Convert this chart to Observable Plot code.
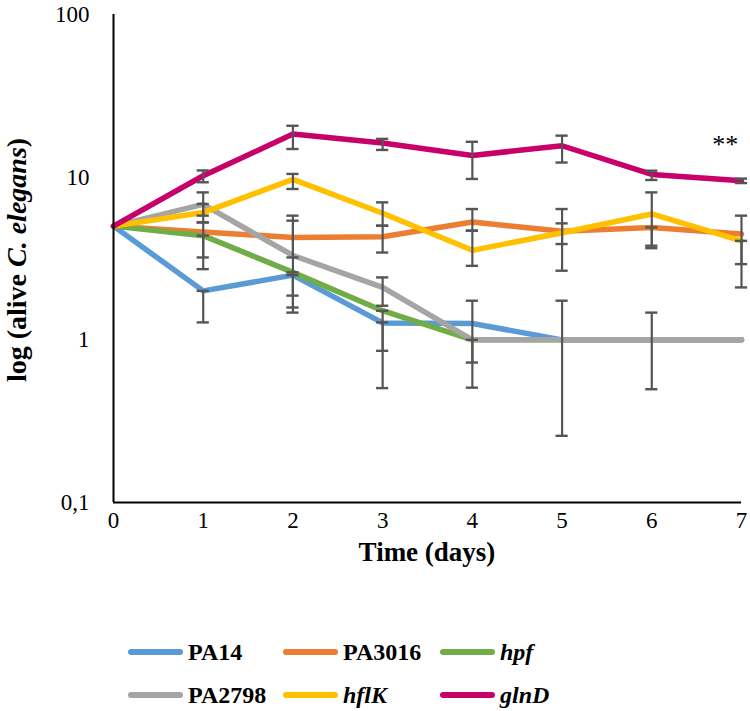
<!DOCTYPE html>
<html>
<head>
<meta charset="utf-8">
<script src="https://cdn.jsdelivr.net/npm/d3@7"></script>
<script src="https://cdn.jsdelivr.net/npm/@observablehq/plot@0.6"></script>
<style>
  body { margin: 0; background: #fff; font-family: "Liberation Serif", "Times New Roman", serif; }
  #wrap { position: relative; width: 750px; height: 711px; }
  #legend { position: absolute; left: 0; top: 0; width: 750px; height: 711px; pointer-events: none; }
  .item { position: absolute; display: flex; align-items: center; font-family: "Liberation Serif", "Times New Roman", serif; font-weight: bold; font-size: 24px; color: #000; }
  .sw { display: inline-block; width: 55px; height: 6px; border-radius: 3px; margin-right: 5px; }
  .it { font-style: italic; }
</style>
</head>
<body>
<div id="wrap"><div id="chart"></div><div id="legend"></div></div>
<script>
const days = [0, 1, 2, 3, 4, 5, 6, 7];
const seriesNames = ["PA14", "PA3016", "hpf", "PA2798", "hflK", "glnD"];
const seriesColors = ["#5B9BD5", "#ED7D31", "#70AD47", "#A5A5A5", "#FFC000", "#C8006A"];
const italicNames = ["hpf", "hflK", "glnD"];

const PA14   = [5, 2.0, 2.5, 1.27, 1.26, 1, 1, 1];
const PA3016 = [5, 4.6, 4.26, 4.3, 5.3, 4.65, 4.91, 4.47];
const hpf    = [5, 4.37, 2.6, 1.51, 1, 1, 1, 1];
const PA2798 = [5, 6.8, 3.3, 2.1, 1, 1, 1, 1];
const hflK   = [5, 6.06, 9.7, 6.0, 3.55, 4.55, 5.94, 4.06];
const glnD   = [5, 10.2, 18.4, 16.2, 13.6, 15.6, 10.4, 9.5];

// error bars: [low, high] per day, null = none
const PA14err   = [null, [1.28, 2.0], [1.87, 2.5], [0.505, 1.28], [0.725, 1.74], null, null, null];
const PA3016err = [null, [2.72, 5.27], [3.21, 5.8], [3.44, 5.03], [4.69, 6.37], [3.88, 6.37], [3.66, 4.91], [2.92, 5.8]];
const hpfErr    = [null, [3.21, 4.37], [1.47, 2.6], [0.856, 1.51], null, null, null, null];
const PA2798err = [null, [5.27, 8.06], [1.58, 5.4], [1.62, 2.42], [0.508, 1], [0.257, 1.74], [0.497, 1.47], null];
const hflKerr   = [null, [5.8, 6.84], [8.46, 10.47], [5.03, 7.0], [2.85, 4.69], [2.66, 5.2], [3.79, 8.06], [2.1, 4.06]];
const glnDerr   = [null, [9.3, 11.0], [14.9, 20.7], [14.7, 17.2], [9.75, 16.5], [12.3, 18.0], [9.61, 10.96], [9.2, 9.8]];

const yTicks = [0.1, 1, 10, 100];
const yTickLabels = ["0,1", "1", "10", "100"];
const xLabel = "Time (days)";
const annotation = {day: 6.82, value: 15.8, text: "**"};

const values = [PA14, PA3016, hpf, PA2798, hflK, glnD];
const errs = [PA14err, PA3016err, hpfErr, PA2798err, hflKerr, glnDerr];

const rows = [];
const errRows = [];
seriesNames.forEach((s, i) => {
  days.forEach((d, j) => {
    rows.push({series: s, day: d, value: values[i][j]});
    const e = errs[i][j];
    if (e) errRows.push({series: s, day: d, lo: e[0], hi: e[1]});
  });
});
const caps = errRows.flatMap(r => [{day: r.day, v: r.lo}, {day: r.day, v: r.hi}]);
const capHalf = 0.068;
const errColor = "#555555";
const serif = "'Liberation Serif', 'Times New Roman', serif";

const chart = Plot.plot({
  width: 750,
  height: 580,
  marginLeft: 113,
  marginRight: 9,
  marginTop: 14,
  marginBottom: 78,
  style: {fontFamily: serif, fontSize: "23px", color: "#000", background: "#fff"},
  x: {domain: [0, 7], ticks: days, tickSize: 0, tickPadding: 9, label: null, tickFormat: d => String(d)},
  y: {type: "log", domain: [0.1, 100], ticks: yTicks, tickSize: 0, tickPadding: 24, label: null,
      tickFormat: d => yTickLabels[yTicks.indexOf(d)]},
  color: {domain: seriesNames, range: seriesColors},
  marks: [
    Plot.line(rows, {x: "day", y: "value", z: "series", stroke: "series", strokeWidth: 5.5, strokeLinejoin: "round"}),
    Plot.ruleX(errRows, {x: "day", y1: "lo", y2: "hi", stroke: errColor, strokeWidth: 2.2}),
    Plot.ruleY(caps, {y: "v", x1: d => d.day - capHalf, x2: d => d.day + capHalf, stroke: errColor, strokeWidth: 2.4}),
    Plot.ruleX([0], {stroke: "#000", strokeWidth: 2}),
    Plot.ruleY([0.1], {stroke: "#000", strokeWidth: 2}),
    Plot.text([annotation], {x: "day", y: "value", text: "text", fontSize: 26, fill: "#000"})
  ]
});
document.getElementById("chart").appendChild(chart);

const svg = d3.select(chart);
svg.selectAll("text").style("font-family", serif);

// x-axis title
svg.append("text")
  .attr("x", 427).attr("y", 555)
  .attr("text-anchor", "middle")
  .attr("dominant-baseline", "middle")
  .style("font-family", serif)
  .style("font-weight", "bold")
  .style("font-size", "27px")
  .text(xLabel);

// y-axis label with italic species name
const yl = svg.append("text")
  .attr("transform", "translate(20,260) rotate(-90)")
  .attr("text-anchor", "middle")
  .attr("dominant-baseline", "middle")
  .style("font-family", serif)
  .style("font-weight", "bold")
  .style("font-size", "28px");
yl.append("tspan").text("log (alive ");
yl.append("tspan").style("font-style", "italic").text("C. elegans");
yl.append("tspan").text(")");

// legend
const legendPos = [
  [128, 652], [283, 652], [440, 652],
  [128, 695], [283, 695], [440, 695]
];
const legend = document.getElementById("legend");
seriesNames.forEach((s, i) => {
  const div = document.createElement("div");
  div.className = "item";
  div.style.left = legendPos[i][0] + "px";
  div.style.top = (legendPos[i][1] - 14) + "px";
  div.style.height = "28px";
  const sw = document.createElement("span");
  sw.className = "sw";
  sw.style.background = seriesColors[i];
  const t = document.createElement("span");
  t.textContent = s;
  if (italicNames.includes(s)) t.className = "it";
  div.appendChild(sw);
  div.appendChild(t);
  legend.appendChild(div);
});
</script>
</body>
</html>
